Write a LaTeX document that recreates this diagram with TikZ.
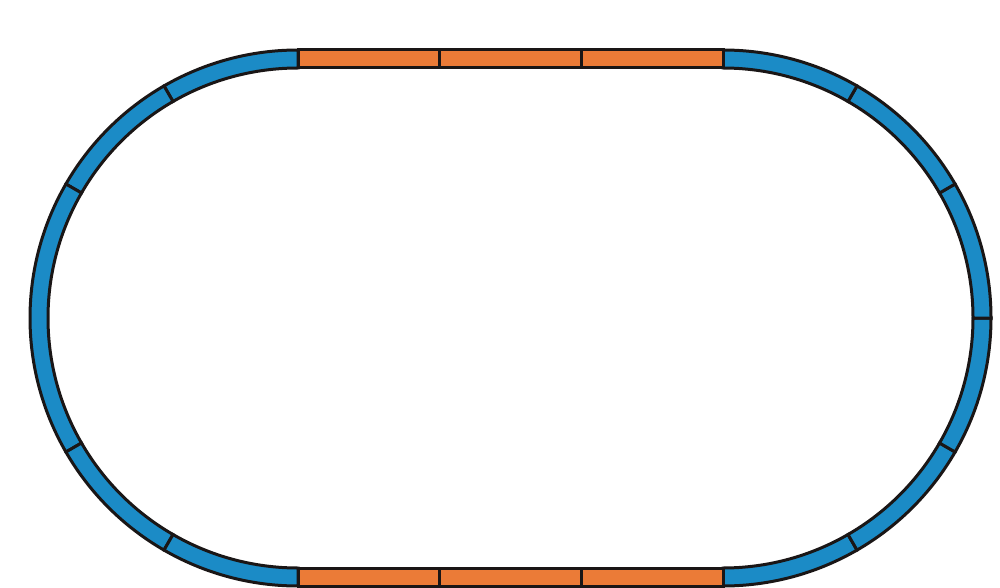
\documentclass[tikz,border=0pt]{standalone}
\usetikzlibrary{calc}
\definecolor{trackblue}{HTML}{1B8BC6}
\definecolor{trackorange}{HTML}{EB7B37}
\definecolor{trackedge}{HTML}{1A1616}
\begin{document}
\begin{tikzpicture}[x=1pt,y=1pt,
  curvepiece/.style={fill=trackblue,draw=trackedge,line width=3pt},
  straightpiece/.style={fill=trackorange,draw=trackedge,line width=3pt}]
\useasboundingbox (0,0) rectangle (1000,587);
\coordinate (L) at (298,269);
\coordinate (R) at (723,269);
\def\ri{250}
\def\ro{268}
\foreach \a/\b in {90/120,120/150,150/210,210/240,240/270}
  \draw[curvepiece] ([shift={(L)}]\a:\ro) arc[start angle=\a,end angle=\b,radius=\ro]
     -- ([shift={(L)}]\b:\ri) arc[start angle=\b,end angle=\a,radius=\ri] -- cycle;
\foreach \a/\b in {-90/-60,-60/-30,-30/0,0/30,30/60,60/90}
  \draw[curvepiece] ([shift={(R)}]\a:\ro) arc[start angle=\a,end angle=\b,radius=\ro]
     -- ([shift={(R)}]\b:\ri) arc[start angle=\b,end angle=\a,radius=\ri] -- cycle;
\foreach \s/\e in {298/439.67,439.67/581.33,581.33/723} {
  \draw[straightpiece] (\s,519) rectangle (\e,537);
  \draw[straightpiece] (\s,1) rectangle (\e,19);
}
\end{tikzpicture}
\end{document}
